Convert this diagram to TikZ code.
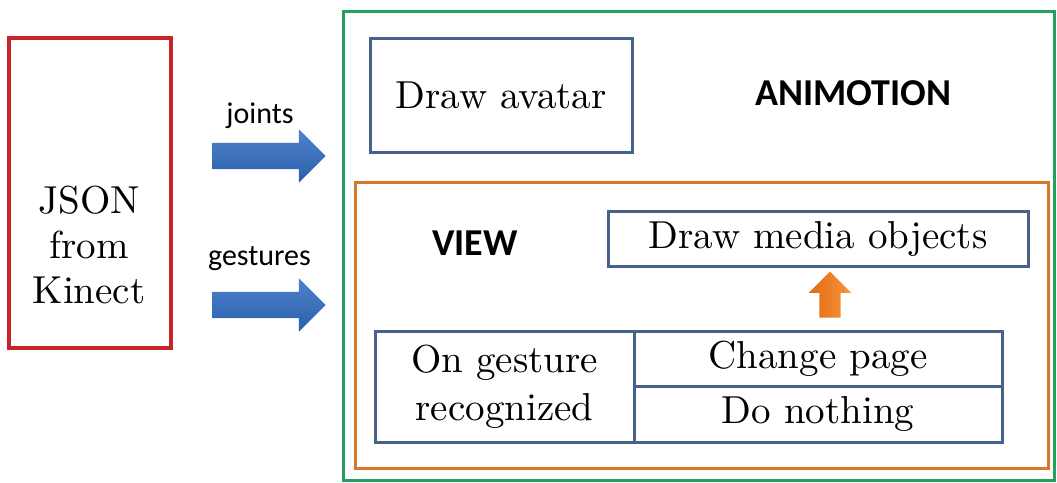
\documentclass[tikz,border=0pt]{standalone}
\usepackage{fontspec}
\setsansfont{Carlito}
\newfontfamily\bookfont{lmroman10-regular.otf}
\usetikzlibrary{shapes.arrows}
\definecolor{kinectred}{RGB}{200,35,40}
\definecolor{appgreen}{RGB}{35,160,90}
\definecolor{vieworange}{RGB}{215,120,40}
\definecolor{boxblue}{RGB}{70,98,138}
\definecolor{flowtop}{RGB}{80,130,205}
\definecolor{flowbot}{RGB}{40,95,170}
\definecolor{uptop}{RGB}{250,150,60}
\definecolor{upbot}{RGB}{225,105,20}
\begin{document}
\begin{tikzpicture}[x=1pt,y=-1pt,
  panel/.style={draw, rectangle, inner sep=0pt, outer sep=0pt},
  stepbox/.style={panel, draw=boxblue, line width=3pt, font=\bookfont\fontsize{39}{48}\selectfont},
  serifbig/.style={font=\bookfont\fontsize{39}{45}\selectfont},
  flowlabel/.style={font=\sffamily\fontsize{30}{36}\selectfont, anchor=base},
  heading/.style={font=\sffamily\bfseries\fontsize{38}{42}\selectfont, anchor=base},
  flow/.style={single arrow, single arrow head extend=13.5pt, inner xsep=0pt, inner ysep=13pt,
    minimum height=113pt, top color=flowtop, bottom color=flowbot, draw=none},
]
\fill[white] (0,0) rectangle (1057,482);
\useasboundingbox (0,0) rectangle (1057,482);

% data source
\node[panel, draw=kinectred, line width=3.3pt, minimum width=162pt, minimum height=310pt] (kinect) at (90,193) {};
\node[serifbig, align=center] (kinecttxt) at (89,245) {JSON\\from\\Kinect};

% data flows
\node[flow] (jointsarrow) at (262.5,156) {};
\node[flowlabel] (jointslabel) at (260,123) {joints};
\node[flow] (gesturesarrow) at (262.5,305) {};
\node[flowlabel] (gestureslabel) at (259.5,265) {gestures};

% application
\node[panel, draw=appgreen, line width=3pt, minimum width=711pt, minimum height=469pt] (animotion) at (698.5,245.5) {};
\node[heading] (animotiontitle) at (853,105) {ANIMOTION};
\node[stepbox, minimum width=262pt, minimum height=114pt] (avatar) at (501,95) {Draw avatar};

% view
\node[panel, draw=vieworange, line width=3pt, minimum width=693pt, minimum height=286pt] (view) at (701.5,325) {};
\node[heading] (viewtitle) at (475,255) {VIEW};
\node[stepbox, minimum width=420pt, minimum height=55pt] (media) at (818,238.5) {Draw media objects};

% gesture table
\node[stepbox, minimum width=259pt, minimum height=111pt, align=center] (gesture) at (504.5,386.5) {On gesture\\recognized};
\node[stepbox, minimum width=368pt, minimum height=55pt] (change) at (818,358.5) {Change page};
\node[stepbox, minimum width=368pt, minimum height=56pt] (nothing) at (818,414) {Do nothing};

% page change triggers redraw
\node[single arrow, rotate=90, single arrow head extend=10.5pt, inner xsep=0pt, inner ysep=10.5pt,
  minimum height=46pt, left color=upbot, right color=uptop, draw=none] (uparrow) at (830,300) {};
\end{tikzpicture}
\end{document}
